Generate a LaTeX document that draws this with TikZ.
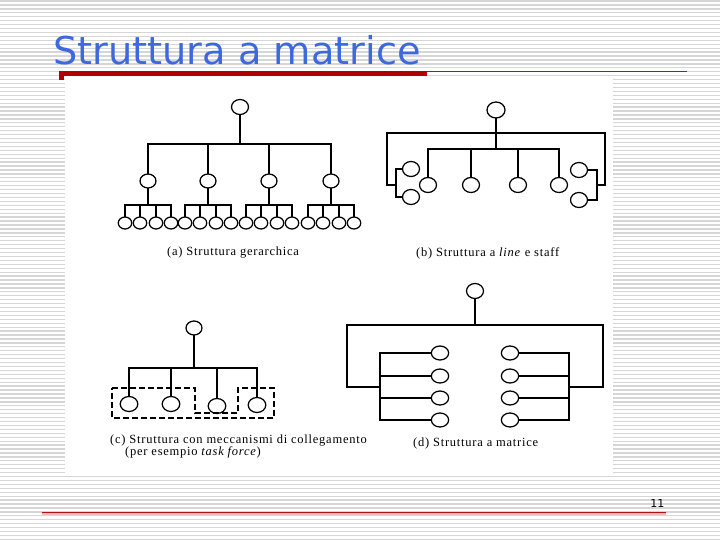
\documentclass[tikz,border=0pt]{standalone}
\usepackage{fontspec}
\setmainfont{Liberation Serif}
\newfontfamily\titlefont{DejaVu Sans}
\newfontfamily\capfont[LetterSpace=6]{Liberation Serif}
\newfontfamily\numfont{DejaVu Sans}
\usetikzlibrary{shapes.geometric}
\definecolor{titleblue}{RGB}{61,104,222}
\definecolor{barred}{RGB}{178,0,0}
\definecolor{thinred}{RGB}{170,20,20}
\definecolor{stripegray}{RGB}{214,214,214}
\definecolor{pinkline}{RGB}{238,185,185}
\begin{document}
\begin{tikzpicture}[x=1pt,y=-1pt,
  ov/.style={draw, ellipse, line width=1.25pt, minimum width=17pt, minimum height=15pt, inner sep=0pt},
  sm/.style={ov, minimum width=13.5pt, minimum height=12pt},
  ln/.style={line width=1.8pt, line cap=rect},
  captxt/.style={font=\capfont\fontsize{12.5}{13}\selectfont, inner sep=0pt, anchor=base west},
  stripe/.style={stripegray, line width=1.3pt}]

\useasboundingbox (0,0) rectangle (720,540);
\fill[white] (0,0) rectangle (720,540);
\foreach \k in {0,...,137} \draw[stripe] (0,{1+3.93*\k}) -- (720,{1+3.93*\k});
\fill[white] (65,77) rectangle (613,473);

% title
\node[font=\titlefont\fontsize{38.3}{40}\selectfont, text=titleblue, anchor=base west, inner sep=0pt] (title) at (53,65) {Struttura a matrice};
\fill[barred] (59,71.5) rectangle (427,76.5);
\fill[barred] (59,76.5) rectangle (64,80);
\draw[thinred, line width=1pt] (427,71.5) -- (687,71.5);

% (a) hierarchy
\node[ov] (a0) at (240,107) {};
\coordinate (abL) at (148,144);
\coordinate (abR) at (331,144);
\draw[ln] (abL) -- (abR);
\draw[ln] (a0) -- (a0 |- abL);
\foreach \i/\x in {1/148,2/208,3/269,4/331} {
  \node[ov, minimum width=16pt, minimum height=14pt] (a\i) at (\x,181) {};
  \draw[ln] (a\i) -- (a\i |- abL);
  \coordinate (ag\i) at (\x,205);
  \draw[ln] (a\i) -- (ag\i);
  \foreach \j/\d in {1/-23,2/-8,3/8,4/23} {
    \node[sm] (a\i\j) at ({\x+(\d)},223) {};
    \draw[ln] (a\i\j) -- (a\i\j |- ag\i);
  }
  \draw[ln] (a\i1 |- ag\i) -- (a\i4 |- ag\i);
}
\node[captxt] (capa) at (167,255) {(a) Struttura gerarchica};

% (b) line and staff
\node[ov, minimum width=18pt, minimum height=16pt] (b0) at (496,110) {};
\coordinate (bfL) at (387,133);
\coordinate (bfR) at (605,133);
\coordinate (bbL) at (428,149);
\coordinate (bbR) at (559,149);
\draw[ln] (b0) -- (b0 |- bbL);
\draw[ln] (bbL) -- (bbR);
\foreach \i/\x in {1/428,2/471,3/518,4/559} {
  \node[ov] (b\i) at (\x,185) {};
  \draw[ln] (b\i) -- (b\i |- bbL);
}
\node[ov] (sl1) at (411,169) {};
\node[ov] (sl2) at (411,197) {};
\node[ov] (sr1) at (579,170) {};
\node[ov] (sr2) at (579,200) {};
\coordinate (bkL) at (396,185);
\coordinate (bkR) at (597,185);
\draw[ln] (bkL) -- (bkL -| bfL) -- (bfL) -- (bfR) -- (bkR -| bfR) -- (bkR);
\draw[ln] (sl1.west) -- (sl1.west -| bkL) -- (sl2.west -| bkL) -- (sl2.west);
\draw[ln] (sr1.east) -- (sr1.east -| bkR) -- (sr2.east -| bkR) -- (sr2.east);
\node[captxt] (capb) at (416,256) {(b) Struttura a \textit{line} e staff};

% (c) task force
\node[ov, minimum width=16pt, minimum height=14pt] (c0) at (194,328) {};
\coordinate (cbL) at (129,368);
\coordinate (cbR) at (257,368);
\draw[ln] (c0) -- (c0 |- cbL);
\draw[ln] (cbL) -- (cbR);
\foreach \i/\x/\y in {1/129/404,2/171/404,3/217/406,4/257/405} {
  \node[ov, minimum width=17.6pt, minimum height=15pt] (c\i) at (\x,\y) {};
  \draw[ln] (c\i) -- (c\i |- cbL);
}
\draw[line width=1.3pt, dash pattern=on 6pt off 3pt]
  (112,388) -- (195,388) -- (195,413) -- (238,413) -- (238,388)
  -- (274,388) -- (274,418) -- (112,418) -- cycle;
\node[captxt] (capc1) at (110,443) {(c) Struttura con meccanismi di collegamento};
\node[captxt] (capc2) at (125,455.5) {(per esempio \textit{task force})};

% (d) matrix
\node[ov] (d0) at (475,291) {};
\coordinate (dfL) at (347,325);
\coordinate (dfR) at (603,325);
\coordinate (dkL) at (380,387);
\coordinate (dkR) at (569,387);
\draw[ln] (d0) -- (d0 |- dfL);
\draw[ln] (dkL) -- (dkL -| dfL) -- (dfL) -- (dfR) -- (dkR -| dfR) -- (dkR);
\foreach \i/\y in {1/353,2/376,3/398,4/420} {
  \node[ov, minimum width=17.3pt, minimum height=14pt] (dl\i) at (440,\y) {};
  \node[ov, minimum width=17.3pt, minimum height=14pt] (dr\i) at (510,\y) {};
  \draw[ln] (dl\i) -- (dl\i -| dkL);
  \draw[ln] (dr\i) -- (dr\i -| dkR);
}
\draw[ln] (dl1 -| dkL) -- (dl4 -| dkL);
\draw[ln] (dr1 -| dkR) -- (dr4 -| dkR);
\node[captxt] (capd) at (413,446) {(d) Struttura a matrice};

% footer
\draw[pinkline, line width=1.5pt] (41.7,513.8) -- (666,513.8);
\draw[thinred, line width=0.9pt] (41.7,512.7) -- (666,512.7);
\node[font=\numfont\fontsize{11}{12}\selectfont, anchor=base east, inner sep=0pt] (pnum) at (664.5,507) {11};
\end{tikzpicture}
\end{document}
